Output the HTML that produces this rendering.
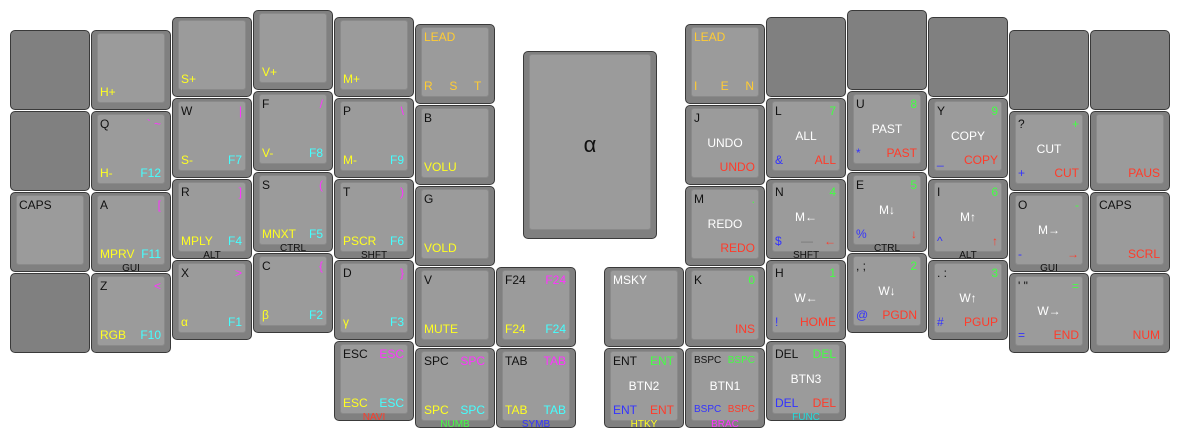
<!DOCTYPE html>
<html><head><meta charset="utf-8"><style>
body{margin:0;width:1181px;height:439px;background:#fff;position:relative;overflow:hidden;font-family:"Liberation Sans",Arial,sans-serif;}
.k{position:absolute;width:78px;height:78px;background:#808080;border:1px solid #3a3a3a;border-radius:5px;}
.i{position:absolute;left:5px;top:2px;width:66px;height:68px;background:#9b9b9b;border:1px solid #8a8a8a;border-radius:3px;}
.k span{position:absolute;font-size:12px;line-height:14px;white-space:nowrap;}
.tl{left:8px;top:5px;color:#111}
.tr{right:9px;top:5px;color:#ff33ff}
.bl{left:8px;bottom:10px;color:#ffff22}
.br{right:9px;bottom:10px;color:#44ffff}
.c{left:0;right:0;text-align:center;top:30px;color:#fff}
.k span.h{left:0;right:0;text-align:center;top:70px;font-size:10px;line-height:12px;color:#111}
.g{color:#44ff44!important}.r{color:#ff3b2a!important}.b{color:#3333ff!important}.o{color:#ffcc33!important}.w{color:#fff!important}.m{color:#ff33ff!important}.y{color:#ffff22!important}
</style></head><body>
<div class="k" style="left:10px;top:30px"></div>
<div class="k" style="left:10px;top:111px"></div>
<div class="k" style="left:10px;top:192px"><div class="i"></div><span class="tl">CAPS</span></div>
<div class="k" style="left:10px;top:273px"></div>
<div class="k" style="left:91px;top:30px"><div class="i"></div><span class="bl">H+</span></div>
<div class="k" style="left:91px;top:111px"><div class="i"></div><span class="tl">Q</span><span class="tr">` ~</span><span class="bl">H-</span><span class="br">F12</span></div>
<div class="k" style="left:91px;top:192px"><div class="i"></div><span class="tl">A</span><span class="tr">[</span><span class="bl">MPRV</span><span class="br">F11</span><span class="h">GUI</span></div>
<div class="k" style="left:91px;top:273px"><div class="i"></div><span class="tl">Z</span><span class="tr">&lt;</span><span class="bl">RGB</span><span class="br">F10</span></div>
<div class="k" style="left:172px;top:17px"><div class="i"></div><span class="bl">S+</span></div>
<div class="k" style="left:172px;top:98px"><div class="i"></div><span class="tl">W</span><span class="tr">|</span><span class="bl">S-</span><span class="br">F7</span></div>
<div class="k" style="left:172px;top:179px"><div class="i"></div><span class="tl">R</span><span class="tr">]</span><span class="bl">MPLY</span><span class="br">F4</span><span class="h">ALT</span></div>
<div class="k" style="left:172px;top:260px"><div class="i"></div><span class="tl">X</span><span class="tr">&gt;</span><span class="bl">α</span><span class="br">F1</span></div>
<div class="k" style="left:253px;top:10px"><div class="i"></div><span class="bl">V+</span></div>
<div class="k" style="left:253px;top:91px"><div class="i"></div><span class="tl">F</span><span class="tr">/</span><span class="bl">V-</span><span class="br">F8</span></div>
<div class="k" style="left:253px;top:172px"><div class="i"></div><span class="tl">S</span><span class="tr">(</span><span class="bl">MNXT</span><span class="br">F5</span><span class="h">CTRL</span></div>
<div class="k" style="left:253px;top:253px"><div class="i"></div><span class="tl">C</span><span class="tr">{</span><span class="bl">β</span><span class="br">F2</span></div>
<div class="k" style="left:334px;top:17px"><div class="i"></div><span class="bl">M+</span></div>
<div class="k" style="left:334px;top:98px"><div class="i"></div><span class="tl">P</span><span class="tr">\</span><span class="bl">M-</span><span class="br">F9</span></div>
<div class="k" style="left:334px;top:179px"><div class="i"></div><span class="tl">T</span><span class="tr">)</span><span class="bl">PSCR</span><span class="br">F6</span><span class="h">SHFT</span></div>
<div class="k" style="left:334px;top:260px"><div class="i"></div><span class="tl">D</span><span class="tr">}</span><span class="bl">γ</span><span class="br">F3</span></div>
<div class="k" style="left:334px;top:341px"><div class="i"></div><span class="tl">ESC</span><span class="tr">ESC</span><span class="bl">ESC</span><span class="br">ESC</span><span class="h r">NAVI</span></div>
<div class="k" style="left:415px;top:24px"><div class="i"></div><span class="tl o">LEAD</span><span class="bl o">R&nbsp;&nbsp;&nbsp;&nbsp;&nbsp;S&nbsp;&nbsp;&nbsp;&nbsp;&nbsp;T</span></div>
<div class="k" style="left:415px;top:105px"><div class="i"></div><span class="tl">B</span><span class="bl">VOLU</span></div>
<div class="k" style="left:415px;top:186px"><div class="i"></div><span class="tl">G</span><span class="bl">VOLD</span></div>
<div class="k" style="left:415px;top:267px"><div class="i"></div><span class="tl">V</span><span class="bl">MUTE</span></div>
<div class="k" style="left:415px;top:348px"><div class="i"></div><span class="tl">SPC</span><span class="tr">SPC</span><span class="bl">SPC</span><span class="br">SPC</span><span class="h g">NUMB</span></div>
<div class="k" style="left:496px;top:267px"><div class="i"></div><span class="tl">F24</span><span class="tr">F24</span><span class="bl">F24</span><span class="br">F24</span></div>
<div class="k" style="left:496px;top:348px"><div class="i"></div><span class="tl">TAB</span><span class="tr">TAB</span><span class="bl">TAB</span><span class="br">TAB</span><span class="h b">SYMB</span></div>
<div class="k" style="left:523px;top:51px;width:132px;height:186px"><div class="i" style="width:120px;height:174px"></div><span style="left:0;right:0;text-align:center;top:80px;font-size:22px;line-height:26px;color:#111">α</span></div>
<div class="k" style="left:604px;top:267px"><div class="i"></div><span class="tl w">MSKY</span></div>
<div class="k" style="left:604px;top:348px"><div class="i"></div><span class="tl">ENT</span><span class="tr g">ENT</span><span class="c">BTN2</span><span class="bl b">ENT</span><span class="br r">ENT</span><span class="h y">HTKY</span></div>
<div class="k" style="left:685px;top:24px"><div class="i"></div><span class="tl o">LEAD</span><span class="bl o">I&nbsp;&nbsp;&nbsp;&nbsp;&nbsp;&nbsp;&nbsp;E&nbsp;&nbsp;&nbsp;&nbsp;&nbsp;N</span></div>
<div class="k" style="left:685px;top:105px"><div class="i"></div><span class="tl">J</span><span class="c">UNDO</span><span class="br r">UNDO</span></div>
<div class="k" style="left:685px;top:186px"><div class="i"></div><span class="tl">M</span><span class="tr g">.</span><span class="c">REDO</span><span class="br r">REDO</span></div>
<div class="k" style="left:685px;top:267px"><div class="i"></div><span class="tl">K</span><span class="tr g">0</span><span class="br r">INS</span></div>
<div class="k" style="left:685px;top:348px"><div class="i"></div><span class="tl" style="font-size:10px">BSPC</span><span class="tr g" style="font-size:10px">BSPC</span><span class="c">BTN1</span><span class="bl b" style="font-size:10px">BSPC</span><span class="br r" style="font-size:10px">BSPC</span><span class="h m">BRAC</span></div>
<div class="k" style="left:766px;top:17px"></div>
<div class="k" style="left:766px;top:98px"><div class="i"></div><span class="tl">L</span><span class="tr g">7</span><span class="c">ALL</span><span class="bl b">&amp;</span><span class="br r">ALL</span></div>
<div class="k" style="left:766px;top:179px"><div class="i"></div><span class="tl">N</span><span class="tr g">4</span><span class="c">M←</span><span class="bl b">$</span><span style="left:34px;bottom:10px;color:#777">—</span><span class="br r">←</span><span class="h">SHFT</span></div>
<div class="k" style="left:766px;top:260px"><div class="i"></div><span class="tl">H</span><span class="tr g">1</span><span class="c">W←</span><span class="bl b">!</span><span class="br r">HOME</span></div>
<div class="k" style="left:766px;top:341px"><div class="i"></div><span class="tl">DEL</span><span class="tr g">DEL</span><span class="c">BTN3</span><span class="bl b">DEL</span><span class="br r">DEL</span><span class="h" style="color:#22dddd">FUNC</span></div>
<div class="k" style="left:847px;top:10px"></div>
<div class="k" style="left:847px;top:91px"><div class="i"></div><span class="tl">U</span><span class="tr g">8</span><span class="c">PAST</span><span class="bl b">*</span><span class="br r">PAST</span></div>
<div class="k" style="left:847px;top:172px"><div class="i"></div><span class="tl">E</span><span class="tr g">5</span><span class="c">M↓</span><span class="bl b">%</span><span class="br r">↓</span><span class="h">CTRL</span></div>
<div class="k" style="left:847px;top:253px"><div class="i"></div><span class="tl">, ;</span><span class="tr g">2</span><span class="c">W↓</span><span class="bl b">@</span><span class="br r">PGDN</span></div>
<div class="k" style="left:928px;top:17px"></div>
<div class="k" style="left:928px;top:98px"><div class="i"></div><span class="tl">Y</span><span class="tr g">9</span><span class="c">COPY</span><span class="bl b">_</span><span class="br r">COPY</span></div>
<div class="k" style="left:928px;top:179px"><div class="i"></div><span class="tl">I</span><span class="tr g">6</span><span class="c">M↑</span><span class="bl b">^</span><span class="br r">↑</span><span class="h">ALT</span></div>
<div class="k" style="left:928px;top:260px"><div class="i"></div><span class="tl">. :</span><span class="tr g">3</span><span class="c">W↑</span><span class="bl b">#</span><span class="br r">PGUP</span></div>
<div class="k" style="left:1009px;top:30px"></div>
<div class="k" style="left:1009px;top:111px"><div class="i"></div><span class="tl">?</span><span class="tr g">+</span><span class="c">CUT</span><span class="bl b">+</span><span class="br r">CUT</span></div>
<div class="k" style="left:1009px;top:192px"><div class="i"></div><span class="tl">O</span><span class="tr g">-</span><span class="c">M→</span><span class="bl b">-</span><span class="br r">→</span><span class="h">GUI</span></div>
<div class="k" style="left:1009px;top:273px"><div class="i"></div><span class="tl">' "</span><span class="tr g">=</span><span class="c">W→</span><span class="bl b">=</span><span class="br r">END</span></div>
<div class="k" style="left:1090px;top:30px"></div>
<div class="k" style="left:1090px;top:111px"><div class="i"></div><span class="br r">PAUS</span></div>
<div class="k" style="left:1090px;top:192px"><div class="i"></div><span class="tl">CAPS</span><span class="br r">SCRL</span></div>
<div class="k" style="left:1090px;top:273px"><div class="i"></div><span class="br r">NUM</span></div>
</body></html>
